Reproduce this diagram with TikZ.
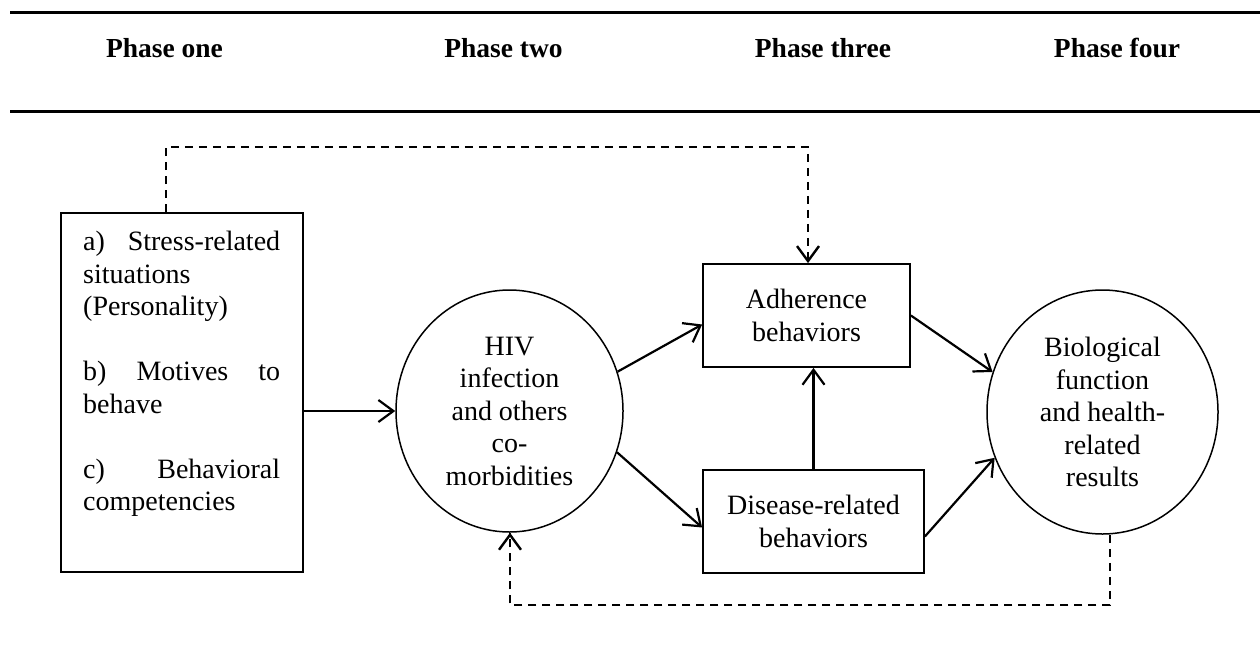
\documentclass[tikz,border=0pt]{standalone}
\usepackage{fontspec}
\setmainfont{Liberation Serif}
\usetikzlibrary{arrows.meta,shapes.geometric,calc}
\begin{document}
\begin{tikzpicture}[x=1pt,y=-1pt,
  txt/.style={font=\fontsize{28}{32.5}\selectfont},
  hdr/.style={font=\bfseries\fontsize{27.5}{32}\selectfont, anchor=base, inner sep=0pt},
  boxn/.style={draw, line width=1.8pt, inner sep=0pt, align=center, txt},
  ell/.style={draw, ellipse, line width=1.5pt, inner sep=0pt, align=center, txt},
  arr/.style={line width=2.2pt, -{Straight Barb[length=15pt,width=22pt]}},
  darr/.style={line width=2.4pt, dash pattern=on 8pt off 6pt},
  rulel/.style={line width=2.5pt}]
\useasboundingbox (0,0) rectangle (1260,656);
% header rules
\coordinate (r1a) at (10,12.5);
\coordinate (r1b) at (1260,12.5);
\coordinate (r2a) at (10,111.5);
\coordinate (r2b) at (1260,111.5);
\draw[rulel] (r1a) -- (r1b);
\draw[rulel] (r2a) -- (r2b);
% headers
\node[hdr] (h1) at (164.5,57) {Phase one};
\node[hdr] (h2) at (503.5,57) {Phase two};
\node[hdr] (h3) at (823,57) {Phase three};
\node[hdr] (h4) at (1117,57) {Phase four};
% phase one box
\node[draw, line width=1.8pt, minimum width=242pt, minimum height=359pt, inner sep=0pt] (p1) at (182,392.5) {};
\node[txt, anchor=north west, inner sep=0pt, text width=197pt, align=left] (p1t) at (83,231)
  {\makebox[197pt]{a)\hfill Stress-related}\\situations\\(Personality)\\[32.5pt]
   \makebox[197pt]{b)\hfill Motives\hfill to}\\behave\\[32.5pt]
   \makebox[197pt]{c)\hfill Behavioral}\\competencies};
% ellipses
\node[ell, minimum width=227pt, minimum height=242pt] (e1) at (509.5,411)
  {HIV\\infection\\and others\\co-\\morbidities};
\node[ell, minimum width=231pt, minimum height=244pt] (e2) at (1102.5,412)
  {Biological\\function\\and health-\\related\\results};
% boxes
\node[boxn, minimum width=207pt, minimum height=103pt] (adh) at (806.5,315.5) {Adherence\\behaviors};
\node[boxn, minimum width=221pt, minimum height=103pt] (dis) at (813.5,521.5) {Disease-related\\behaviors};
% solid arrows
\draw[arr] (p1.east |- e1.west) -- (e1.west);
\draw[arr] (e1.20) -- ([yshift=-9pt]adh.west);
\draw[arr] (e1.339) -- ([yshift=-6pt]dis.west);
\draw[arr] (adh.east) -- (e2.160);
\draw[arr] ([yshift=-15pt]dis.east) -- (e2.203);
\draw[arr] (dis.north) -- (dis.north |- adh.south);
% dashed feedback arrows
\coordinate (tl) at (166,147);
\coordinate (tr) at (808,147);
\draw[darr] (p1.north -| tl) -- (tl) -- (tr) -- (tr |- adh.north);
\draw[line width=2.4pt, -{Straight Barb[length=15pt,width=22pt]}] ([yshift=1pt]tr |- adh.north) -- (tr |- adh.north);
\coordinate (br) at (1110,605);
\coordinate (bl) at (510,605);
\draw[darr] (br |- e2.south) -- (br) -- (bl) -- (bl |- e1.south);
\draw[line width=2.4pt, -{Straight Barb[length=15pt,width=22pt]}] ([yshift=-1pt]bl |- e1.south) -- (bl |- e1.south);
\end{tikzpicture}
\end{document}
